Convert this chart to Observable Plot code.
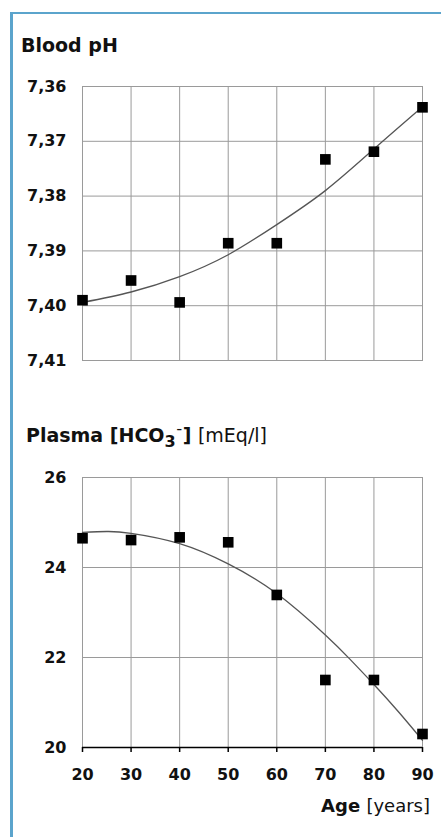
<!DOCTYPE html>
<html>
<head>
<meta charset="utf-8">
<script src="https://cdn.jsdelivr.net/npm/d3@7"></script>
<script src="https://cdn.jsdelivr.net/npm/@observablehq/plot@0.6"></script>
<style>
  html, body { margin: 0; padding: 0; background: #fff; width: 441px; height: 837px; overflow: hidden; }
  body { position: relative; font-family: "DejaVu Sans", Verdana, sans-serif; color: #111; }
  #frame { position: absolute; left: 10px; top: 12px; width: 460px; height: 900px;
           border-left: 3px solid #5ba4cc; border-top: 2px solid #5ba4cc; }
  .title { position: absolute; font-size: 19px; line-height: 1; font-weight: bold; white-space: nowrap; }
  .chart { position: absolute; left: 0; }
  .norm { font-weight: normal; }
</style>
</head>
<body>
<div id="frame"></div>
<div class="title" style="left:21px; top:36px;">Blood pH</div>
<div class="title" style="left:26px; top:426px;">Plasma [HCO<span style="position:relative; top:5px; font-size:16px;">3</span><span style="position:relative; top:-2px; font-size:14px;">¯</span>] <span class="norm">[mEq/l]</span></div>
<div id="chart1" class="chart" style="top:60px;"></div>
<div id="chart2" class="chart" style="top:450px;"></div>
<div class="title" style="right:11px; top:797px; font-size:18px;">Age <span class="norm">[years]</span></div>
<script>
// Ages (x categories)
const ages = [20, 30, 40, 50, 60, 70, 80, 90];

// Blood pH measurements
const phValues = [7.3990, 7.3954, 7.3994, 7.3886, 7.3886, 7.3733, 7.3719, 7.3638];
// Blood pH trend line
const phFitAges = [20, 30, 40, 50, 60, 70, 80, 90];
const phFit = [7.3994, 7.3975, 7.3947, 7.3907, 7.3852, 7.3790, 7.3714, 7.3637];
const phTicks = [7.36, 7.37, 7.38, 7.39, 7.40, 7.41];

// Plasma HCO3- measurements
const hco3Values = [24.65, 24.61, 24.67, 24.56, 23.39, 21.50, 21.50, 20.30];
// Plasma HCO3- trend line
const hco3FitAges = [20, 25, 30, 40, 50, 60, 70, 75, 80, 85, 90];
const hco3Fit = [24.78, 24.80, 24.76, 24.53, 24.08, 23.42, 22.50, 21.97, 21.40, 20.80, 20.16];
const hco3Ticks = [20, 22, 24, 26];

const locale = d3.formatLocale({decimal: ",", thousands: ".", grouping: [3], currency: ["", ""]});
const fmt2 = locale.format(".2f");

const phData = ages.map((a, i) => ({age: a, v: phValues[i]}));
const phFitData = phFitAges.map((a, i) => ({age: a, v: phFit[i]}));
const hcoData = ages.map((a, i) => ({age: a, v: hco3Values[i]}));
const hcoFitData = hco3FitAges.map((a, i) => ({age: a, v: hco3Fit[i]}));

const style = {fontFamily: "DejaVu Sans, Verdana, sans-serif", fontSize: "16px", fontWeight: "bold", color: "#111", background: "transparent", overflow: "visible"};
const gridStroke = "#9a9a9a";

const chart1 = Plot.plot({
  width: 441, height: 310,
  marginLeft: 82, marginRight: 19, marginTop: 26, marginBottom: 10,
  style,
  x: {domain: [20, 90], axis: null},
  y: {domain: [7.36, 7.41], reverse: true, label: null},
  marks: [
    Plot.gridX(ages.slice(1, -1), {stroke: gridStroke, strokeOpacity: 1}),
    Plot.gridY(phTicks.slice(1, -1), {stroke: gridStroke, strokeOpacity: 1}),
    Plot.frame({stroke: gridStroke}),
    Plot.axisY(phTicks, {tickSize: 0, tickPadding: 16, tickFormat: fmt2, label: null}),
    Plot.line(phFitData, {x: "age", y: "v", curve: "natural", stroke: "#555", strokeWidth: 1.3}),
    Plot.dot(phData, {x: "age", y: "v", symbol: "square", r: 6, fill: "#000", stroke: "none"})
  ]
});
document.getElementById("chart1").appendChild(chart1);

const chart2 = Plot.plot({
  width: 441, height: 340,
  marginLeft: 82, marginRight: 19, marginTop: 27, marginBottom: 43,
  style,
  x: {domain: [20, 90], label: null},
  y: {domain: [20, 26], label: null},
  marks: [
    Plot.gridX(ages.slice(1, -1), {stroke: gridStroke, strokeOpacity: 1}),
    Plot.gridY(hco3Ticks.slice(1, -1), {stroke: gridStroke, strokeOpacity: 1}),
    Plot.frame({stroke: gridStroke}),
    Plot.ruleY([20], {stroke: "#000", strokeWidth: 1.6}),
    Plot.axisY(hco3Ticks, {tickSize: 0, tickPadding: 16, tickFormat: d3.format("d"), label: null}),
    Plot.axisX(ages, {tickSize: 5, tickPadding: 16, stroke: "#000", strokeWidth: 1.5, tickFormat: d3.format("d"), label: null}),
    Plot.line(hcoFitData, {x: "age", y: "v", curve: "natural", stroke: "#555", strokeWidth: 1.3}),
    Plot.dot(hcoData, {x: "age", y: "v", symbol: "square", r: 6, fill: "#000", stroke: "none"})
  ]
});
document.getElementById("chart2").appendChild(chart2);
</script>
</body>
</html>
